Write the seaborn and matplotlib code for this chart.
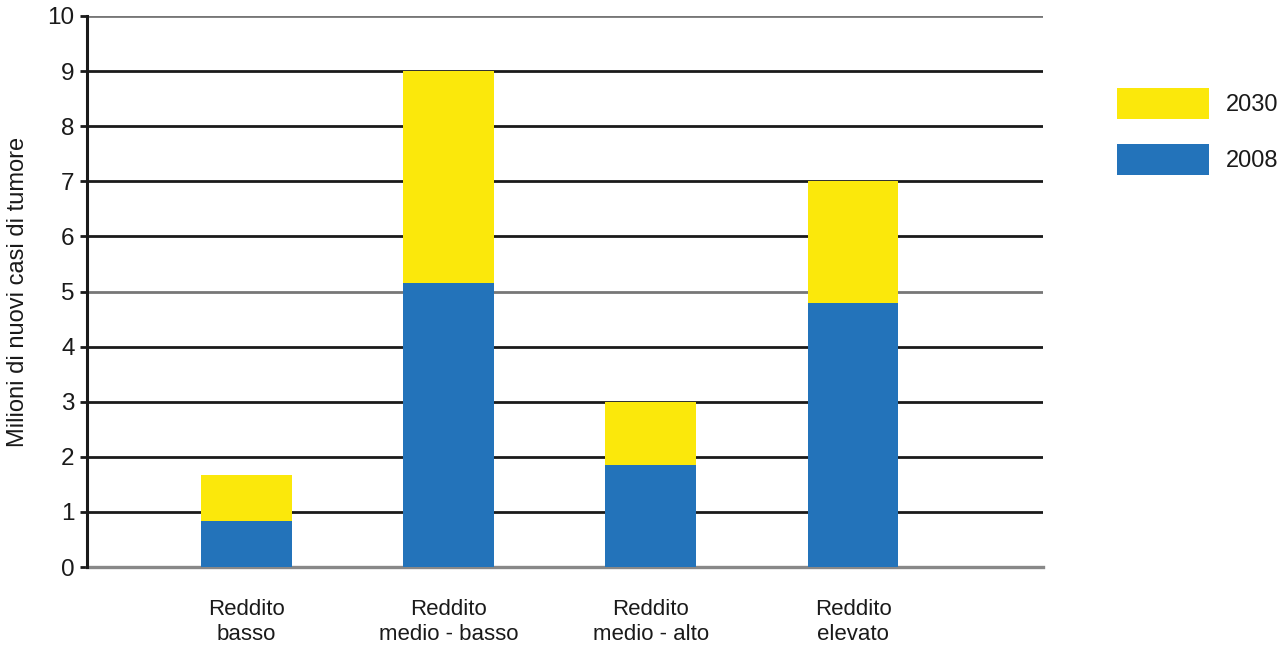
import matplotlib
matplotlib.use("Agg")
import matplotlib.pyplot as plt
import seaborn as sns
import pandas as pd
from matplotlib.patches import Patch

# Income groups and new cancer cases (millions)
categories = ["Reddito\nbasso", "Reddito\nmedio - basso", "Reddito\nmedio - alto", "Reddito\nelevato"]
cases_2008 = [0.83, 5.16, 1.85, 4.8]
cases_2030 = [1.67, 9.0, 3.0, 7.0]
y_ticks = list(range(0, 11))

color_2008 = "#2373BA"
color_2030 = "#FBE80B"
ink = "#1a1a1a"

sns.set_theme(style="white")
plt.rcParams["font.family"] = ["Liberation Sans", "DejaVu Sans"]

df = pd.DataFrame({"categoria": categories, "2008": cases_2008, "2030": cases_2030})

fig = plt.figure(figsize=(12.88, 6.46), dpi=100)
ax = fig.add_axes([87 / 1288, (646 - 567) / 646, (1043 - 87) / 1288, (567 - 16) / 646])

# horizontal grid behind the bars
for v in y_ticks[1:]:
    col = "#777777" if v in (5, 10) else ink
    ax.axhline(v, color=col, lw=2.0, zorder=0)

# stacked bars: 2030 total drawn first, 2008 on top of it from the baseline
sns.barplot(data=df, x="categoria", y="2030", color=color_2030, width=0.45,
            saturation=1, ax=ax, zorder=2, linewidth=0)
sns.barplot(data=df, x="categoria", y="2008", color=color_2008, width=0.45,
            saturation=1, ax=ax, zorder=3, linewidth=0)

ax.set_xlim(-0.79, 3.94)
ax.set_ylim(0, 10)
ax.set_yticks(y_ticks)
ax.set_yticklabels([str(t) for t in y_ticks], fontsize=17.5, color=ink)
ax.tick_params(axis="y", left=True, length=5, width=2.0, color=ink, pad=4)
ax.tick_params(axis="x", bottom=False, pad=17)
ax.set_xticks(range(len(categories)))
ax.set_xticklabels(categories, fontsize=16, color=ink, linespacing=1.25)
ax.set_xlabel("")
ax.set_ylabel("Milioni di nuovi casi di tumore", fontsize=17, color=ink)
ax.yaxis.set_label_coords(-0.061, 0.5)

for s in ("top", "right"):
    ax.spines[s].set_visible(False)
ax.spines["left"].set_color(ink)
ax.spines["left"].set_linewidth(2.2)
ax.spines["bottom"].set_color("#888888")
ax.spines["bottom"].set_linewidth(2.4)
ax.spines["left"].set_zorder(4)

handles = [Patch(facecolor=color_2030, edgecolor="none", label="2030"),
           Patch(facecolor=color_2008, edgecolor="none", label="2008")]
fig.legend(handles=handles, loc="upper left", bbox_to_anchor=(1117 / 1288, 1 - 88 / 646),
           frameon=False, fontsize=17, handlelength=3.9, handleheight=1.62,
           labelspacing=1.08, handletextpad=0.7, borderpad=0, borderaxespad=0,
           labelcolor=ink)

fig.savefig("out.png", dpi=100)
